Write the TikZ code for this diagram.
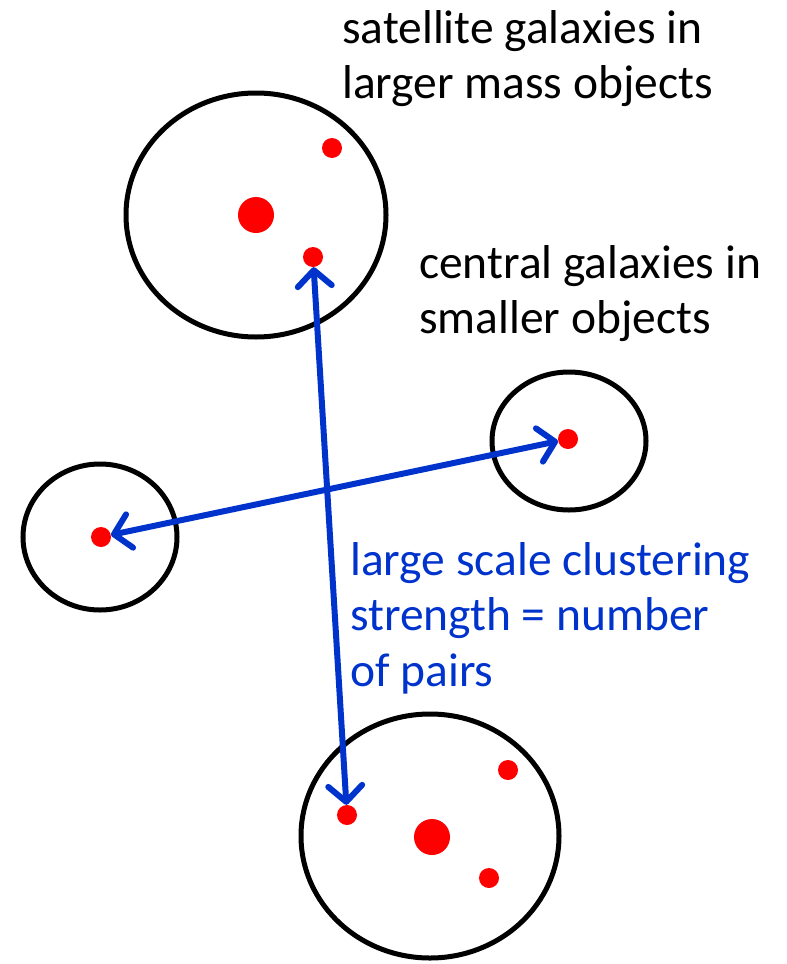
\documentclass[tikz,border=0pt]{standalone}
\usepackage{fontspec}
\setmainfont{Carlito}
\usepackage{tikz}
\usetikzlibrary{arrows.meta, positioning}
\definecolor{galred}{RGB}{255,0,0}
\definecolor{pairblue}{RGB}{0,51,204}

\begin{document}
\begin{tikzpicture}[x=1pt, y=-1pt,
  halo/.style={draw=black, line width=5pt},
  central/.style={circle, fill=galred, inner sep=0pt, minimum size=36pt},
  satellite/.style={circle, fill=galred, inner sep=0pt, minimum size=20pt},
  pair/.style={draw=pairblue, line width=6pt, {Straight Barb[length=16pt,width=34pt,round]}-{Straight Barb[length=16pt,width=34pt,round]}},
  label/.style={anchor=north west, inner sep=0pt, align=left, font=\fontsize{47.5}{55.5}\selectfont}]

\useasboundingbox (0,0) rectangle (787,964);

% Halos
\draw[halo] (256,215) ellipse [x radius=130pt, y radius=122pt];
\draw[halo] (569,441) ellipse [x radius=77pt, y radius=69pt];
\draw[halo] (100,537) ellipse [x radius=77pt, y radius=73pt];
\draw[halo] (430,836) ellipse [x radius=129pt, y radius=122pt];

% Galaxies
\node[central] (cenA) at (256,215) {};
\node[satellite] (satA1) at (332,148) {};
\node[satellite] (satA2) at (313,257) {};
\node[satellite] (cenB) at (568,439) {};
\node[satellite] (cenC) at (101,537) {};
\node[central] (cenD) at (432,837) {};
\node[satellite] (satD1) at (508,770) {};
\node[satellite] (satD2) at (489,878) {};
\node[satellite] (satD3) at (347,815) {};

% Pairs
\draw[pair] (satA2) -- (satD3);
\draw[pair] (cenC) -- (cenB);

% Labels
\node[label] (satlabel) at (342,10) {satellite galaxies in\\larger mass objects};
\node[label] (cenlabel) at (419,245) {central galaxies in\\smaller objects};
\node[label, text=pairblue] (pairlabel) at (350,542) {large scale clustering\\strength = number\\of pairs};

\end{tikzpicture}
\end{document}
